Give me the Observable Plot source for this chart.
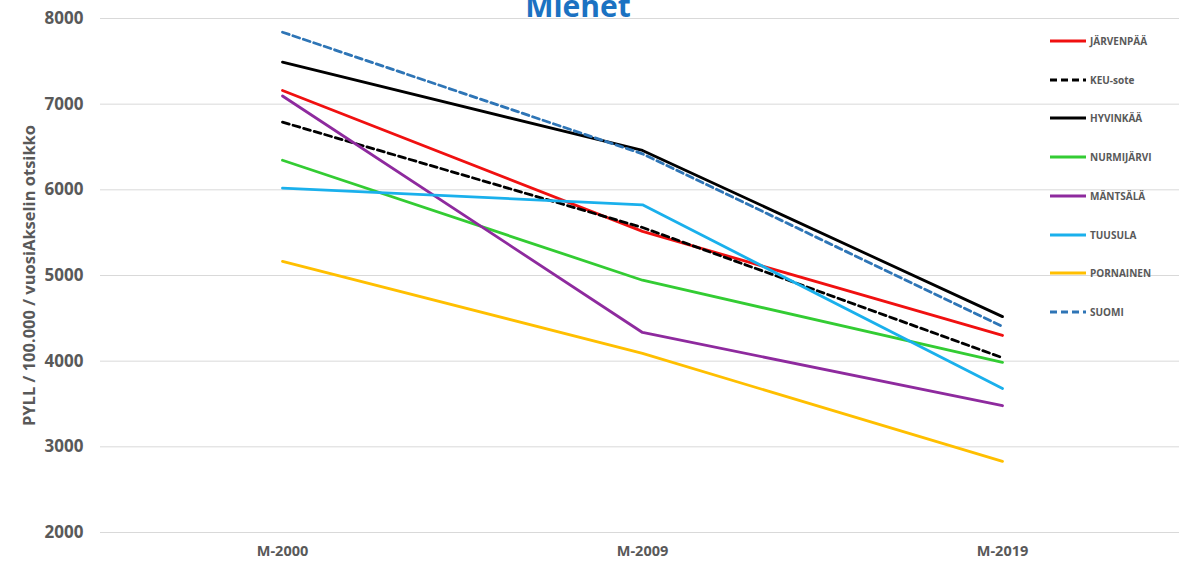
<!DOCTYPE html>
<html>
<head>
<meta charset="utf-8">
<script src="https://cdn.jsdelivr.net/npm/d3@7"></script>
<script src="https://cdn.jsdelivr.net/npm/@observablehq/plot@0.6"></script>
<style>
  html, body { margin: 0; padding: 0; background: #fff; }
  #wrap { position: relative; width: 1179px; height: 570px; overflow: hidden; font-family: "Open Sans", sans-serif; }
  #title { position: absolute; left: 0; width: 1156px; top: -15px; line-height: 30px; text-align: center;
           font: 700 30px "Open Sans", sans-serif; color: #1b72c2; }
  .leg { position: absolute; left: 1050px; height: 14px; display: flex; align-items: center; }
  .leg span { margin-left: 4px; font: 700 10px "Open Sans", sans-serif; color: #595959; white-space: nowrap; }
  #chart svg { display: block; }
</style>
</head>
<body>
<div id="wrap">
  <div id="chart"></div>
  <div id="title">Miehet</div>
  <div id="legend"></div>
</div>
<script>
// ---- data ----
const categories = ["M-2000", "M-2009", "M-2019"];
const seriesNames = ["JÄRVENPÄÄ", "KEU-sote", "HYVINKÄÄ", "NURMIJÄRVI", "MÄNTSÄLÄ", "TUUSULA", "PORNAINEN", "SUOMI"];
const jarvenpaa  = [7160, 5515, 4300];
const keuSote    = [6790, 5560, 4040];
const hyvinkaa   = [7490, 6460, 4520];
const nurmijarvi = [6345, 4945, 3985];
const mantsala   = [7095, 4335, 3480];
const tuusula    = [6020, 5825, 3680];
const pornainen  = [5165, 4090, 2830];
const suomi      = [7840, 6420, 4405];
const yTicks = [2000, 3000, 4000, 5000, 6000, 7000, 8000];
const yLabel = "PYLL / 100.000 / vuosiAkselin otsikko";

// ---- styles ----
const seriesValues = [jarvenpaa, keuSote, hyvinkaa, nurmijarvi, mantsala, tuusula, pornainen, suomi];
const seriesColors = ["#f01010", "#000000", "#000000", "#33cc33", "#8e2a9e", "#1ab0ec", "#ffbf00", "#2e75b6"];
const seriesDash   = [null, "7,4", null, null, null, null, null, "7,4"];

const rows = [];
seriesNames.forEach((name, i) => {
  categories.forEach((c, j) => rows.push({name, cat: c, value: seriesValues[i][j]}));
});

const lineMarks = seriesNames.map((name, i) =>
  Plot.line(rows.filter(d => d.name === name), {
    x: "cat", y: "value",
    stroke: seriesColors[i], strokeWidth: 2.8,
    strokeDasharray: seriesDash[i] || undefined
  })
);

const chart = Plot.plot({
  width: 1179,
  height: 570,
  marginLeft: 100,
  marginRight: 0,
  marginTop: 18,
  marginBottom: 38,
  style: { fontFamily: "Open Sans", background: "#fff", overflow: "visible" },
  x: { type: "point", domain: categories, range: [281, 1002], padding: 0 },
  y: { domain: [2000, 8000] },
  marks: [
    Plot.gridY(yTicks, { stroke: "#d9d9d9", strokeOpacity: 1, strokeWidth: 1 }),
    Plot.axisY(yTicks, { tickSize: 0, tickPadding: 17, fontSize: 17, fontWeight: 700, fill: "#595959", label: null, tickFormat: d => String(d) }),
    Plot.axisX({ tickSize: 0, tickPadding: 13, fontSize: 14.5, fontWeight: 700, fill: "#595959", label: null }),
    Plot.text([yLabel], { frameAnchor: "left", textAnchor: "middle", rotate: -90, dx: -71, fontSize: 16.5, fontWeight: 700, fill: "#595959", text: d => d }),
    ...lineMarks
  ]
});
document.getElementById("chart").appendChild(chart);

// ---- legend ----
const leg = document.getElementById("legend");
seriesNames.forEach((name, i) => {
  const item = document.createElement("div");
  item.className = "leg";
  item.style.top = (41 + i * 38.7 - 7) + "px";
  const dash = seriesDash[i] ? `stroke-dasharray="7,4"` : "";
  item.innerHTML = `<svg width="36" height="4"><line x1="0" x2="36" y1="2" y2="2" stroke="${seriesColors[i]}" stroke-width="2.8" ${dash}/></svg><span>${name}</span>`;
  leg.appendChild(item);
});
</script>
</body>
</html>
